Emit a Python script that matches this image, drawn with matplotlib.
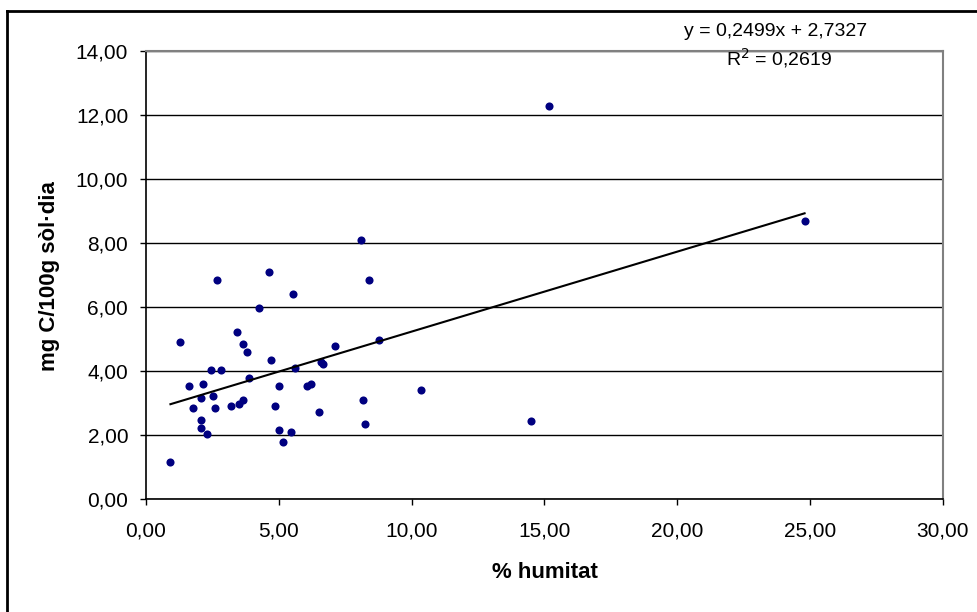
import matplotlib
matplotlib.use("Agg")
from matplotlib import pyplot as plt
from matplotlib.ticker import FuncFormatter, MultipleLocator
from matplotlib.lines import Line2D
import numpy as np

plt.rcParams['font.family'] = ['Liberation Sans', 'DejaVu Sans']

# % humitat vs mg C/100g sòl·dia
humitat = [0.92, 1.29, 1.61, 1.76, 2.06, 2.15, 2.06, 2.06, 2.28, 2.43,
           2.51, 2.58, 2.66, 2.82, 3.19, 3.41, 3.49, 3.64, 3.64, 3.79,
           3.87, 4.24, 4.62, 4.69, 4.84, 4.99, 4.99, 5.14, 5.45, 5.52,
           5.60, 6.05, 6.20, 6.50, 6.58, 6.65, 7.10, 8.08, 8.16, 8.23,
           8.38, 8.76, 10.34, 14.48, 15.16, 24.79]
carboni = [1.15, 4.90, 3.52, 2.83, 3.15, 3.58, 2.46, 2.21, 2.02, 4.02,
           3.21, 2.83, 6.83, 4.02, 2.90, 5.21, 2.96, 3.08, 4.83, 4.58,
           3.77, 5.96, 7.08, 4.33, 2.90, 3.52, 2.15, 1.77, 2.08, 6.40,
           4.08, 3.52, 3.58, 2.71, 4.27, 4.21, 4.77, 8.08, 3.08, 2.33,
           6.83, 4.96, 3.40, 2.45, 12.27, 8.70]

# linear trend shown on the chart
slope = 0.2499
intercept = 2.7327
r2 = 0.2619

fig = plt.figure(figsize=(9.78, 6.12), dpi=100)
ax = fig.add_axes([146/978, 1 - 499/612, 797/978, 448/612])

ax.grid(axis='y', color='black', linewidth=1.0)
ax.set_axisbelow(True)

ax.scatter(humitat, carboni, s=34, color='#000080', zorder=3, linewidths=0)

xs = np.array([min(humitat), max(humitat)])
ax.plot(xs, slope * xs + intercept, color='black', linewidth=1.5, zorder=4)

ax.set_xlim(0, 30)
ax.set_ylim(0, 14)
ax.xaxis.set_major_locator(MultipleLocator(5))
ax.yaxis.set_major_locator(MultipleLocator(2))
fmt = FuncFormatter(lambda v, p: f"{v:.2f}".replace('.', ','))
ax.xaxis.set_major_formatter(fmt)
ax.yaxis.set_major_formatter(fmt)
ax.tick_params(axis='y', direction='out', length=4.3, width=1, pad=8.5, labelsize=15)
ax.tick_params(axis='x', direction='out', length=4, width=1, pad=12.5, labelsize=15)

for s in ['left', 'bottom']:
    ax.spines[s].set_color('black')
    ax.spines[s].set_linewidth(1.2)
for s in ['top', 'right']:
    ax.spines[s].set_color('#808080')
    ax.spines[s].set_linewidth(1.5)

ax.set_xlabel('% humitat', fontsize=16, fontweight='bold', va='center')
ax.xaxis.set_label_coords(0.5, (499 - 572) / 448)
ax.set_ylabel('mg C/100g sòl·dia', fontsize=16, fontweight='bold', va='center')
ax.yaxis.set_label_coords((50 - 146) / 797, (499 - 276) / 448)

eq = f"y = {slope:.4f}x + {intercept:.4f}".replace('.', ',')
ax.text((776 - 146) / 797, (499 - 32) / 448, eq, transform=ax.transAxes,
        ha='center', va='center', fontsize=14)
ax.text((779 - 146) / 797, (499 - 58) / 448, f"R$^{{2}}$ = {r2:.4f}".replace('.', ','),
        transform=ax.transAxes, ha='center', va='center', fontsize=14)

# outer chart frame
fig.add_artist(Line2D([7/978, 1], [1 - 11/612, 1 - 11/612], color='black', linewidth=2))
fig.add_artist(Line2D([7/978, 7/978], [0, 1 - 11/612], color='black', linewidth=2))

fig.savefig('out.png', dpi=100)
